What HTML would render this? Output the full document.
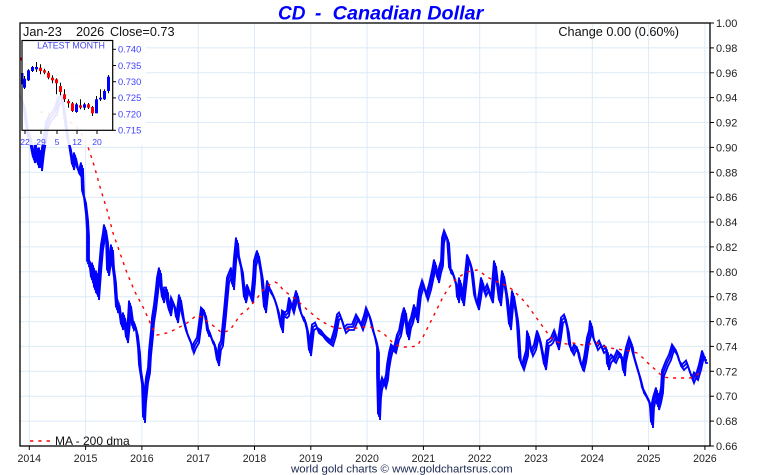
<!DOCTYPE html>
<html><head><meta charset="utf-8"><style>
html,body{margin:0;padding:0;background:#fff;}
svg{display:block;font-family:"Liberation Sans",Arial,sans-serif;}
</style></head><body>
<svg width="760" height="475" viewBox="0 0 760 475" xmlns="http://www.w3.org/2000/svg" xmlns:xlink="http://www.w3.org/1999/xlink">
<rect x="0" y="0" width="760" height="475" fill="#fff"/>
<!-- grid -->
<g stroke="#dcebf7" stroke-width="1" fill="none">
<line x1="20" y1="47.9" x2="710" y2="47.9"/><line x1="20" y1="72.8" x2="710" y2="72.8"/><line x1="20" y1="97.6" x2="710" y2="97.6"/><line x1="20" y1="122.5" x2="710" y2="122.5"/><line x1="20" y1="147.4" x2="710" y2="147.4"/><line x1="20" y1="172.3" x2="710" y2="172.3"/><line x1="20" y1="197.2" x2="710" y2="197.2"/><line x1="20" y1="222" x2="710" y2="222"/><line x1="20" y1="246.9" x2="710" y2="246.9"/><line x1="20" y1="271.8" x2="710" y2="271.8"/><line x1="20" y1="296.7" x2="710" y2="296.7"/><line x1="20" y1="321.6" x2="710" y2="321.6"/><line x1="20" y1="346.4" x2="710" y2="346.4"/><line x1="20" y1="371.3" x2="710" y2="371.3"/><line x1="20" y1="396.2" x2="710" y2="396.2"/><line x1="20" y1="421.1" x2="710" y2="421.1"/>
<line x1="29.3" y1="23" x2="29.3" y2="446"/><line x1="85.6" y1="23" x2="85.6" y2="446"/><line x1="141.9" y1="23" x2="141.9" y2="446"/><line x1="198.2" y1="23" x2="198.2" y2="446"/><line x1="254.5" y1="23" x2="254.5" y2="446"/><line x1="310.8" y1="23" x2="310.8" y2="446"/><line x1="367.1" y1="23" x2="367.1" y2="446"/><line x1="423.4" y1="23" x2="423.4" y2="446"/><line x1="479.7" y1="23" x2="479.7" y2="446"/><line x1="536" y1="23" x2="536" y2="446"/><line x1="592.3" y1="23" x2="592.3" y2="446"/><line x1="648.6" y1="23" x2="648.6" y2="446"/><line x1="704.9" y1="23" x2="704.9" y2="446"/>
</g>
<!-- price series -->
<defs>
<polyline id="ser" fill="none" stroke="#0000ff" stroke-width="1.8" stroke-linejoin="miter" points="21,98 24,105 26,120 27,128 29,140 30,135 32,150 34,160 36,145 38,165 40,150 41,168 43,150 45,138 47,125 50,118 53,115 56,110 59,100 62,98 64,110 66,125 68,140 70,147 72,160 73,167 75,155 78,170 80,173 82,165 83,193 85,200 87,217 88,233 88,263 90,262 92,280 93,265 95,290 97,273 98,297 100,270 102,247 104,235 105,227 107,240 108,273 110,260 112,247 113,265 115,280 117,310 119,305 122,327 124,315 127,340 129,320 130,303 132,318 133,327 135,325 137,333 139,350 140,367 142,380 143,387 144,420 145,400 147,380 149,370 150,353 152,333 153,320 155,307 157,290 158,280 160,270 161,285 163,300 165,290 167,290 168,305 170,313 172,300 175,307 177,320 179,305 180,297 182,310 183,317 185,325 187,333 190,340 192,345 193,350 195,345 198,340 200,325 202,310 205,313 207,325 208,333 210,333 212,340 215,345 217,357 218,363 220,347 222,343 225,313 228,280 230,275 232,270 233,287 235,260 237,240 238,253 240,262 242,270 245,300 248,287 250,295 252,300 254,280 255,263 258,253 260,265 262,277 265,310 268,283 270,290 272,293 275,300 278,310 280,320 282,330 283,313 286,315 288,313 290,300 293,310 297,293 300,310 303,318 305,320 308,333 310,353 313,327 316,325 318,330 322,333 325,337 328,340 332,343 335,333 338,317 340,315 342,320 345,330 348,327 353,327 355,322 357,317 360,322 362,327 365,318 367,310 370,317 373,330 376,340 378,350 378,377 379,417 380,395 381,387 383,380 385,385 387,377 388,367 390,355 392,347 395,350 398,337 400,333 403,317 405,310 408,337 410,325 412,320 415,307 417,320 420,293 423,283 425,290 427,297 430,287 433,273 435,262 438,280 440,270 442,263 443,240 445,233 447,238 448,240 450,270 453,273 455,280 457,287 458,300 460,280 463,303 465,285 467,267 468,257 470,262 472,270 475,297 478,307 480,295 482,280 485,293 488,287 490,295 492,300 495,263 497,280 500,303 503,273 505,285 507,297 510,327 513,293 515,305 517,317 518,327 520,360 523,367 525,360 527,353 528,333 530,345 532,353 535,347 538,333 540,340 542,350 545,367 548,343 550,342 552,340 555,333 558,347 560,335 562,320 565,317 568,330 570,347 573,352 575,347 578,350 580,360 582,367 583,368 585,360 587,347 588,340 590,333 591,323 593,337 597,347 600,343 603,350 605,348 607,350 608,367 610,360 612,357 615,360 618,353 620,355 622,357 624,373 625,360 627,350 630,340 632,345 633,353 635,360 637,367 640,377 642,385 643,390 645,393 647,397 650,403 651,410 652,425 653,405 654,400 657,390 658,407 660,400 662,390 663,373 665,368 667,363 670,357 673,347 675,350 677,353 680,363 683,367 685,365 687,363 690,372 693,380 695,375 697,377 700,367 702,358 703,353 705,360 707,360"/>
</defs>
<use xlink:href="#ser" href="#ser"/>
<use xlink:href="#ser" href="#ser" transform="translate(1,3)"/>
<use xlink:href="#ser" href="#ser" transform="translate(-1,-2.5)"/>
<!-- MA -->
<polyline fill="none" stroke="#ff0000" stroke-width="1.4" stroke-dasharray="3,5" points="40,112 60,116 75,125 82,135 88,147 94,165 100,187 107,210 113,233 120,253 127,273 135,292 143,307 148,318 152,327 157,335 163,334 170,332 178,328 187,323 197,315 203,318 208,322 215,327 222,333 230,330 235,323 240,315 247,310 253,303 258,297 263,290 269,285 275,282 279,284 283,290 290,295 297,300 303,306 310,312 317,318 323,322 330,326 337,328 347,329 357,328 364,327 370,327 377,330 383,333 392,342 400,347 410,347 417,346 423,337 428,327 433,317 438,307 443,297 448,289 453,282 459,277 465,273 471,271 477,270 482,273 487,277 493,280 500,283 507,286 513,290 518,295 523,300 528,306 533,313 538,320 543,327 548,334 553,340 560,343 567,344 573,343 583,345 590,344 597,343 603,346 610,348 617,349 623,350 630,351 637,353 643,358 650,365 657,371 663,377 670,378 677,378 684,378 690,378 697,375 703,370"/>
<!-- inset overlay -->
<rect x="20.5" y="23.5" width="125.5" height="121.5" fill="#fff" fill-opacity="0.9"/>
<!-- frame -->
<rect x="20" y="23" width="690" height="423" fill="none" stroke="#000" stroke-width="1.3"/>
<!-- y ticks & labels -->
<g stroke="#000" stroke-width="1">
<line x1="710" y1="23" x2="714" y2="23"/><line x1="710" y1="47.9" x2="714" y2="47.9"/><line x1="710" y1="72.8" x2="714" y2="72.8"/><line x1="710" y1="97.6" x2="714" y2="97.6"/><line x1="710" y1="122.5" x2="714" y2="122.5"/><line x1="710" y1="147.4" x2="714" y2="147.4"/><line x1="710" y1="172.3" x2="714" y2="172.3"/><line x1="710" y1="197.2" x2="714" y2="197.2"/><line x1="710" y1="222" x2="714" y2="222"/><line x1="710" y1="246.9" x2="714" y2="246.9"/><line x1="710" y1="271.8" x2="714" y2="271.8"/><line x1="710" y1="296.7" x2="714" y2="296.7"/><line x1="710" y1="321.6" x2="714" y2="321.6"/><line x1="710" y1="346.4" x2="714" y2="346.4"/><line x1="710" y1="371.3" x2="714" y2="371.3"/><line x1="710" y1="396.2" x2="714" y2="396.2"/><line x1="710" y1="421.1" x2="714" y2="421.1"/><line x1="710" y1="446" x2="714" y2="446"/>
<line x1="29.3" y1="446" x2="29.3" y2="450"/><line x1="85.6" y1="446" x2="85.6" y2="450"/><line x1="141.9" y1="446" x2="141.9" y2="450"/><line x1="198.2" y1="446" x2="198.2" y2="450"/><line x1="254.5" y1="446" x2="254.5" y2="450"/><line x1="310.8" y1="446" x2="310.8" y2="450"/><line x1="367.1" y1="446" x2="367.1" y2="450"/><line x1="423.4" y1="446" x2="423.4" y2="450"/><line x1="479.7" y1="446" x2="479.7" y2="450"/><line x1="536" y1="446" x2="536" y2="450"/><line x1="592.3" y1="446" x2="592.3" y2="450"/><line x1="648.6" y1="446" x2="648.6" y2="450"/><line x1="704.9" y1="446" x2="704.9" y2="450"/>
</g>
<g font-size="11" fill="#222">
<text x="716" y="27">1.00</text><text x="716" y="51.9">0.98</text><text x="716" y="76.8">0.96</text><text x="716" y="101.6">0.94</text><text x="716" y="126.5">0.92</text><text x="716" y="151.4">0.90</text><text x="716" y="176.3">0.88</text><text x="716" y="201.2">0.86</text><text x="716" y="226">0.84</text><text x="716" y="250.9">0.82</text><text x="716" y="275.8">0.80</text><text x="716" y="300.7">0.78</text><text x="716" y="325.6">0.76</text><text x="716" y="350.4">0.74</text><text x="716" y="375.3">0.72</text><text x="716" y="400.2">0.70</text><text x="716" y="425.1">0.68</text><text x="716" y="450">0.66</text>
</g>
<g font-size="10.6" fill="#222" text-anchor="middle">
<text x="29.3" y="462">2014</text><text x="85.6" y="462">2015</text><text x="141.9" y="462">2016</text><text x="198.2" y="462">2017</text><text x="254.5" y="462">2018</text><text x="310.8" y="462">2019</text><text x="367.1" y="462">2020</text><text x="423.4" y="462">2021</text><text x="479.7" y="462">2022</text><text x="536" y="462">2023</text><text x="592.3" y="462">2024</text><text x="648.6" y="462">2025</text><text x="704.9" y="462">2026</text>
</g>
<!-- title -->
<g font-size="19" font-weight="bold" font-style="italic" fill="#0000ff">
<text x="278" y="19.5">CD</text><text x="315" y="19.5">-</text><text x="332.7" y="19.5" textLength="150.6" lengthAdjust="spacingAndGlyphs">Canadian Dollar</text>
</g>
<!-- header -->
<g font-size="12.7" fill="#111">
<text x="23" y="36">Jan-23</text><text x="76" y="36">2026</text><text x="110" y="36">Close=0.73</text>
<text x="679" y="36" text-anchor="end">Change 0.00 (0.60%)</text>
</g>
<!-- legend -->
<line x1="30" y1="441" x2="51" y2="441" stroke="#ff0000" stroke-width="1.4" stroke-dasharray="3.3,5"/>
<text x="55" y="445" font-size="12" fill="#111">MA - 200 dma</text>
<!-- footer -->
<text x="291" y="472.5" font-size="11.4" fill="#1a2850" textLength="221.7" lengthAdjust="spacingAndGlyphs">world gold charts © www.goldchartsrus.com</text>
<!-- inset -->
<text x="71" y="48.5" font-size="8.9" fill="#4444ee" text-anchor="middle">LATEST MONTH</text>
<rect x="20.5" y="57.5" width="1.5" height="3" fill="#ff0000"/>
<g stroke="#000" stroke-width="1">
<line x1="22" y1="72" x2="22" y2="86"/><line x1="24.5" y1="76" x2="24.5" y2="89"/><line x1="28.5" y1="69.3" x2="28.5" y2="81"/><line x1="32.5" y1="66" x2="32.5" y2="72"/><line x1="36.5" y1="62" x2="36.5" y2="72"/><line x1="40.5" y1="64.3" x2="40.5" y2="74.3"/><line x1="44.5" y1="68.7" x2="44.5" y2="74.3"/><line x1="48.5" y1="71" x2="48.5" y2="79.3"/><line x1="52.5" y1="75.3" x2="52.5" y2="83.3"/><line x1="56.5" y1="78.3" x2="56.5" y2="94.3"/><line x1="60.5" y1="82.7" x2="60.5" y2="95.3"/><line x1="64.5" y1="89.3" x2="64.5" y2="102"/><line x1="68.5" y1="99.3" x2="68.5" y2="107.7"/><line x1="72.5" y1="102" x2="72.5" y2="112"/><line x1="76.5" y1="102.7" x2="76.5" y2="112.7"/><line x1="80.5" y1="99.3" x2="80.5" y2="109.3"/><line x1="84.5" y1="102.7" x2="84.5" y2="110"/><line x1="88.5" y1="103" x2="88.5" y2="109"/><line x1="92.5" y1="106" x2="92.5" y2="116"/><line x1="96.5" y1="96" x2="96.5" y2="113.3"/><line x1="100.5" y1="89.3" x2="100.5" y2="101"/><line x1="104.5" y1="89.3" x2="104.5" y2="100"/><line x1="108.5" y1="75" x2="108.5" y2="93.3"/>
</g>
<g fill="#0000ff">
<rect x="21" y="73" width="2.5" height="11.3"/><rect x="23" y="78.7" width="3" height="9"/><rect x="27" y="70.3" width="3" height="10"/><rect x="31" y="67" width="3" height="4"/><rect x="35" y="67" width="3" height="2.3"/><rect x="75" y="104.3" width="3" height="7.7"/><rect x="83" y="104.3" width="3" height="3.4"/><rect x="95" y="99.3" width="3" height="14"/><rect x="99" y="97.7" width="3" height="1.8"/><rect x="103" y="91" width="3" height="8.3"/><rect x="107" y="76.7" width="3" height="14.3"/>
</g>
<g fill="#ff0000">
<rect x="39" y="67.7" width="3" height="3.3"/><rect x="43" y="70.3" width="3" height="2.4"/><rect x="47" y="72.7" width="3" height="5"/><rect x="51" y="77.7" width="3" height="2.6"/><rect x="55" y="79.3" width="3" height="4"/><rect x="59" y="86" width="3" height="6"/><rect x="63" y="94.3" width="3" height="5"/><rect x="67" y="101" width="3" height="2.3"/><rect x="71" y="103.3" width="3" height="7.7"/><rect x="79" y="105.3" width="3" height="2.4"/><rect x="87" y="104.3" width="3" height="3.4"/><rect x="91" y="107" width="3" height="6.3"/>
</g>
<rect x="22" y="40.5" width="90.7" height="89.8" fill="none" stroke="#000" stroke-width="1.2"/>
<g stroke="#000" stroke-width="1">
<line x1="112.7" y1="49.3" x2="116" y2="49.3"/><line x1="112.7" y1="65.5" x2="116" y2="65.5"/><line x1="112.7" y1="81.7" x2="116" y2="81.7"/><line x1="112.7" y1="97.9" x2="116" y2="97.9"/><line x1="112.7" y1="114.1" x2="116" y2="114.1"/><line x1="112.7" y1="130.3" x2="116" y2="130.3"/>
<line x1="25" y1="130.3" x2="25" y2="134"/><line x1="41" y1="130.3" x2="41" y2="134"/><line x1="57" y1="130.3" x2="57" y2="134"/><line x1="77" y1="130.3" x2="77" y2="134"/><line x1="97" y1="130.3" x2="97" y2="134"/>
</g>
<g font-size="9.3" fill="#4040ff">
<text x="118" y="52.6">0.740</text><text x="118" y="68.8">0.735</text><text x="118" y="85">0.730</text><text x="118" y="101.2">0.725</text><text x="118" y="117.4">0.720</text><text x="118" y="133.6">0.715</text>
</g>
<g font-size="8.6" fill="#4040ff" text-anchor="middle">
<text x="25" y="145">22</text><text x="41" y="145">29</text><text x="57" y="145">5</text><text x="77" y="145">12</text><text x="97" y="145">20</text>
</g>
</svg>
</body></html>
